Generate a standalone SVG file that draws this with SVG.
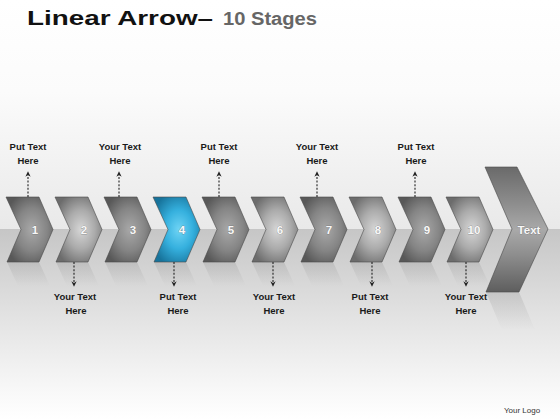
<svg xmlns="http://www.w3.org/2000/svg" width="560" height="420" viewBox="0 0 560 420">
<defs>
<linearGradient id="bgTop" x1="0" y1="0" x2="0" y2="1">
<stop offset="0" stop-color="#ffffff"/>
<stop offset="0.4" stop-color="#fbfbfb"/>
<stop offset="1" stop-color="#e9e9e9"/>
</linearGradient>
<linearGradient id="bgBot" x1="0" y1="0" x2="0" y2="1">
<stop offset="0" stop-color="#c6c6c6"/>
<stop offset="0.45" stop-color="#e2e2e2"/>
<stop offset="0.85" stop-color="#f8f8f8"/>
<stop offset="1" stop-color="#ffffff"/>
</linearGradient>
<radialGradient id="gDark" cx="0.55" cy="0.5" r="0.6">
<stop offset="0" stop-color="#a8a8a8"/>
<stop offset="0.55" stop-color="#858585"/>
<stop offset="1" stop-color="#585858"/>
</radialGradient>
<radialGradient id="gLight" cx="0.55" cy="0.5" r="0.6">
<stop offset="0" stop-color="#d6d6d6"/>
<stop offset="0.5" stop-color="#ababab"/>
<stop offset="1" stop-color="#6c6c6c"/>
</radialGradient>
<radialGradient id="gBlue" cx="0.55" cy="0.5" r="0.6">
<stop offset="0" stop-color="#6fd4f5"/>
<stop offset="0.5" stop-color="#35b0de"/>
<stop offset="1" stop-color="#17739b"/>
</radialGradient>
<linearGradient id="gBig" x1="0" y1="0" x2="0" y2="1">
<stop offset="0" stop-color="#6a6a6a"/>
<stop offset="0.3" stop-color="#8e8e8e"/>
<stop offset="0.5" stop-color="#a9a9a9"/>
<stop offset="0.7" stop-color="#8e8e8e"/>
<stop offset="1" stop-color="#5e5e5e"/>
</linearGradient>
<linearGradient id="gRefl" x1="0" y1="0" x2="0" y2="1">
<stop offset="0" stop-color="#909090" stop-opacity="0.28"/>
<stop offset="1" stop-color="#909090" stop-opacity="0"/>
</linearGradient>
<path id="chev" d="M0,0 L33,0 L47,32.5 L33,65 L1,65 L15,32.5 Z"/>
<path id="rchev" d="M1,0 L33,0 L44,24 L12,24 Z"/>
<marker id="ah" viewBox="0 0 10 10" refX="5" refY="5" markerWidth="6" markerHeight="6" orient="auto">
<path d="M1,1 L9,5 L1,9 L3.5,5 Z" fill="#222"/>
</marker>
</defs>
<style>
.lbl{font-family:"Liberation Sans",Arial,sans-serif;font-weight:bold;font-size:9.5px;fill:#1a1a1a;text-anchor:middle}
.num{font-family:"Liberation Sans",Arial,sans-serif;font-weight:bold;font-size:11.5px;fill:#f8f8f8;text-anchor:middle;stroke:#666;stroke-width:0.4;paint-order:stroke}
.ch{stroke:#4a4a4a;stroke-width:0.6}
.con{stroke:#222;stroke-width:1.1;stroke-dasharray:2 1.6;fill:none}
.refl{fill:url(#gRefl)}
</style>
<rect x="0" y="0" width="560" height="229" fill="url(#bgTop)"/>
<rect x="0" y="229" width="560" height="191" fill="url(#bgBot)"/>
<g id="title">
<text x="27" y="25" font-family="'Liberation Sans',Arial,sans-serif" font-weight="bold" font-size="21" fill="#111" textLength="186" lengthAdjust="spacingAndGlyphs">Linear Arrow–</text>
<text x="223" y="25" font-family="'Liberation Sans',Arial,sans-serif" font-weight="bold" font-size="17.5" fill="#666" textLength="94" lengthAdjust="spacingAndGlyphs">10 Stages</text>
</g>
<g id="reflections">
<use href="#rchev" class="refl" x="6" y="262"/>
<use href="#rchev" class="refl" x="55" y="262"/>
<use href="#rchev" class="refl" x="104" y="262"/>
<use href="#rchev" class="refl" x="153" y="262"/>
<use href="#rchev" class="refl" x="202" y="262"/>
<use href="#rchev" class="refl" x="251" y="262"/>
<use href="#rchev" class="refl" x="300" y="262"/>
<use href="#rchev" class="refl" x="349" y="262"/>
<use href="#rchev" class="refl" x="398" y="262"/>
<use href="#rchev" class="refl" x="446" y="262"/>
<path class="refl" d="M486,292 L519,292 L535,330 L502,330 Z"/>
</g>
<g id="stage1"><use href="#chev" class="ch" transform="translate(6,197)" fill="url(#gDark)"/><text class="num" x="35" y="233.5">1</text></g>
<g id="stage2"><use href="#chev" class="ch" transform="translate(55,197)" fill="url(#gLight)"/><text class="num" x="84" y="233.5">2</text></g>
<g id="stage3"><use href="#chev" class="ch" transform="translate(104,197)" fill="url(#gDark)"/><text class="num" x="133" y="233.5">3</text></g>
<g id="stage4"><use href="#chev" class="ch" transform="translate(153,197)" fill="url(#gBlue)"/><text class="num" x="182" y="233.5">4</text></g>
<g id="stage5"><use href="#chev" class="ch" transform="translate(202,197)" fill="url(#gDark)"/><text class="num" x="231" y="233.5">5</text></g>
<g id="stage6"><use href="#chev" class="ch" transform="translate(251,197)" fill="url(#gLight)"/><text class="num" x="280" y="233.5">6</text></g>
<g id="stage7"><use href="#chev" class="ch" transform="translate(300,197)" fill="url(#gDark)"/><text class="num" x="329" y="233.5">7</text></g>
<g id="stage8"><use href="#chev" class="ch" transform="translate(349,197)" fill="url(#gLight)"/><text class="num" x="378" y="233.5">8</text></g>
<g id="stage9"><use href="#chev" class="ch" transform="translate(398,197)" fill="url(#gDark)"/><text class="num" x="427" y="233.5">9</text></g>
<g id="stage10"><use href="#chev" class="ch" transform="translate(446,197)" fill="url(#gLight)"/><text class="num" x="474" y="233.5">10</text></g>
<g id="final"><path class="ch" d="M485,167 L517,167 L548,229 L519,292 L486,292 L512,229 Z" fill="url(#gBig)"/><text class="num" x="529" y="233.5">Text</text></g>
<g id="connectors">
<line class="con" x1="28" y1="197" x2="28" y2="174" marker-end="url(#ah)"/>
<line class="con" x1="119" y1="197" x2="119" y2="174" marker-end="url(#ah)"/>
<line class="con" x1="219" y1="197" x2="219" y2="174" marker-end="url(#ah)"/>
<line class="con" x1="317" y1="197" x2="317" y2="174" marker-end="url(#ah)"/>
<line class="con" x1="415" y1="197" x2="415" y2="174" marker-end="url(#ah)"/>
<line class="con" x1="74" y1="262" x2="74" y2="284" marker-end="url(#ah)"/>
<line class="con" x1="174" y1="262" x2="174" y2="284" marker-end="url(#ah)"/>
<line class="con" x1="273" y1="262" x2="273" y2="284" marker-end="url(#ah)"/>
<line class="con" x1="372" y1="262" x2="372" y2="284" marker-end="url(#ah)"/>
<line class="con" x1="466" y1="262" x2="466" y2="284" marker-end="url(#ah)"/>
</g>
<g id="labels">
<text class="lbl" x="28" y="150">Put Text</text><text class="lbl" x="28" y="163.5">Here</text>
<text class="lbl" x="120" y="150">Your Text</text><text class="lbl" x="120" y="163.5">Here</text>
<text class="lbl" x="219" y="150">Put Text</text><text class="lbl" x="219" y="163.5">Here</text>
<text class="lbl" x="317" y="150">Your Text</text><text class="lbl" x="317" y="163.5">Here</text>
<text class="lbl" x="416" y="150">Put Text</text><text class="lbl" x="416" y="163.5">Here</text>
<text class="lbl" x="75" y="300">Your Text</text><text class="lbl" x="76" y="313.5">Here</text>
<text class="lbl" x="178" y="300">Put Text</text><text class="lbl" x="178" y="313.5">Here</text>
<text class="lbl" x="274" y="300">Your Text</text><text class="lbl" x="274" y="313.5">Here</text>
<text class="lbl" x="370" y="300">Put Text</text><text class="lbl" x="370" y="313.5">Here</text>
<text class="lbl" x="466" y="300">Your Text</text><text class="lbl" x="466" y="313.5">Here</text>
</g>
<text x="522" y="413" font-family="'Liberation Sans',Arial,sans-serif" font-size="8" fill="#333" text-anchor="middle">Your Logo</text>
</svg>
